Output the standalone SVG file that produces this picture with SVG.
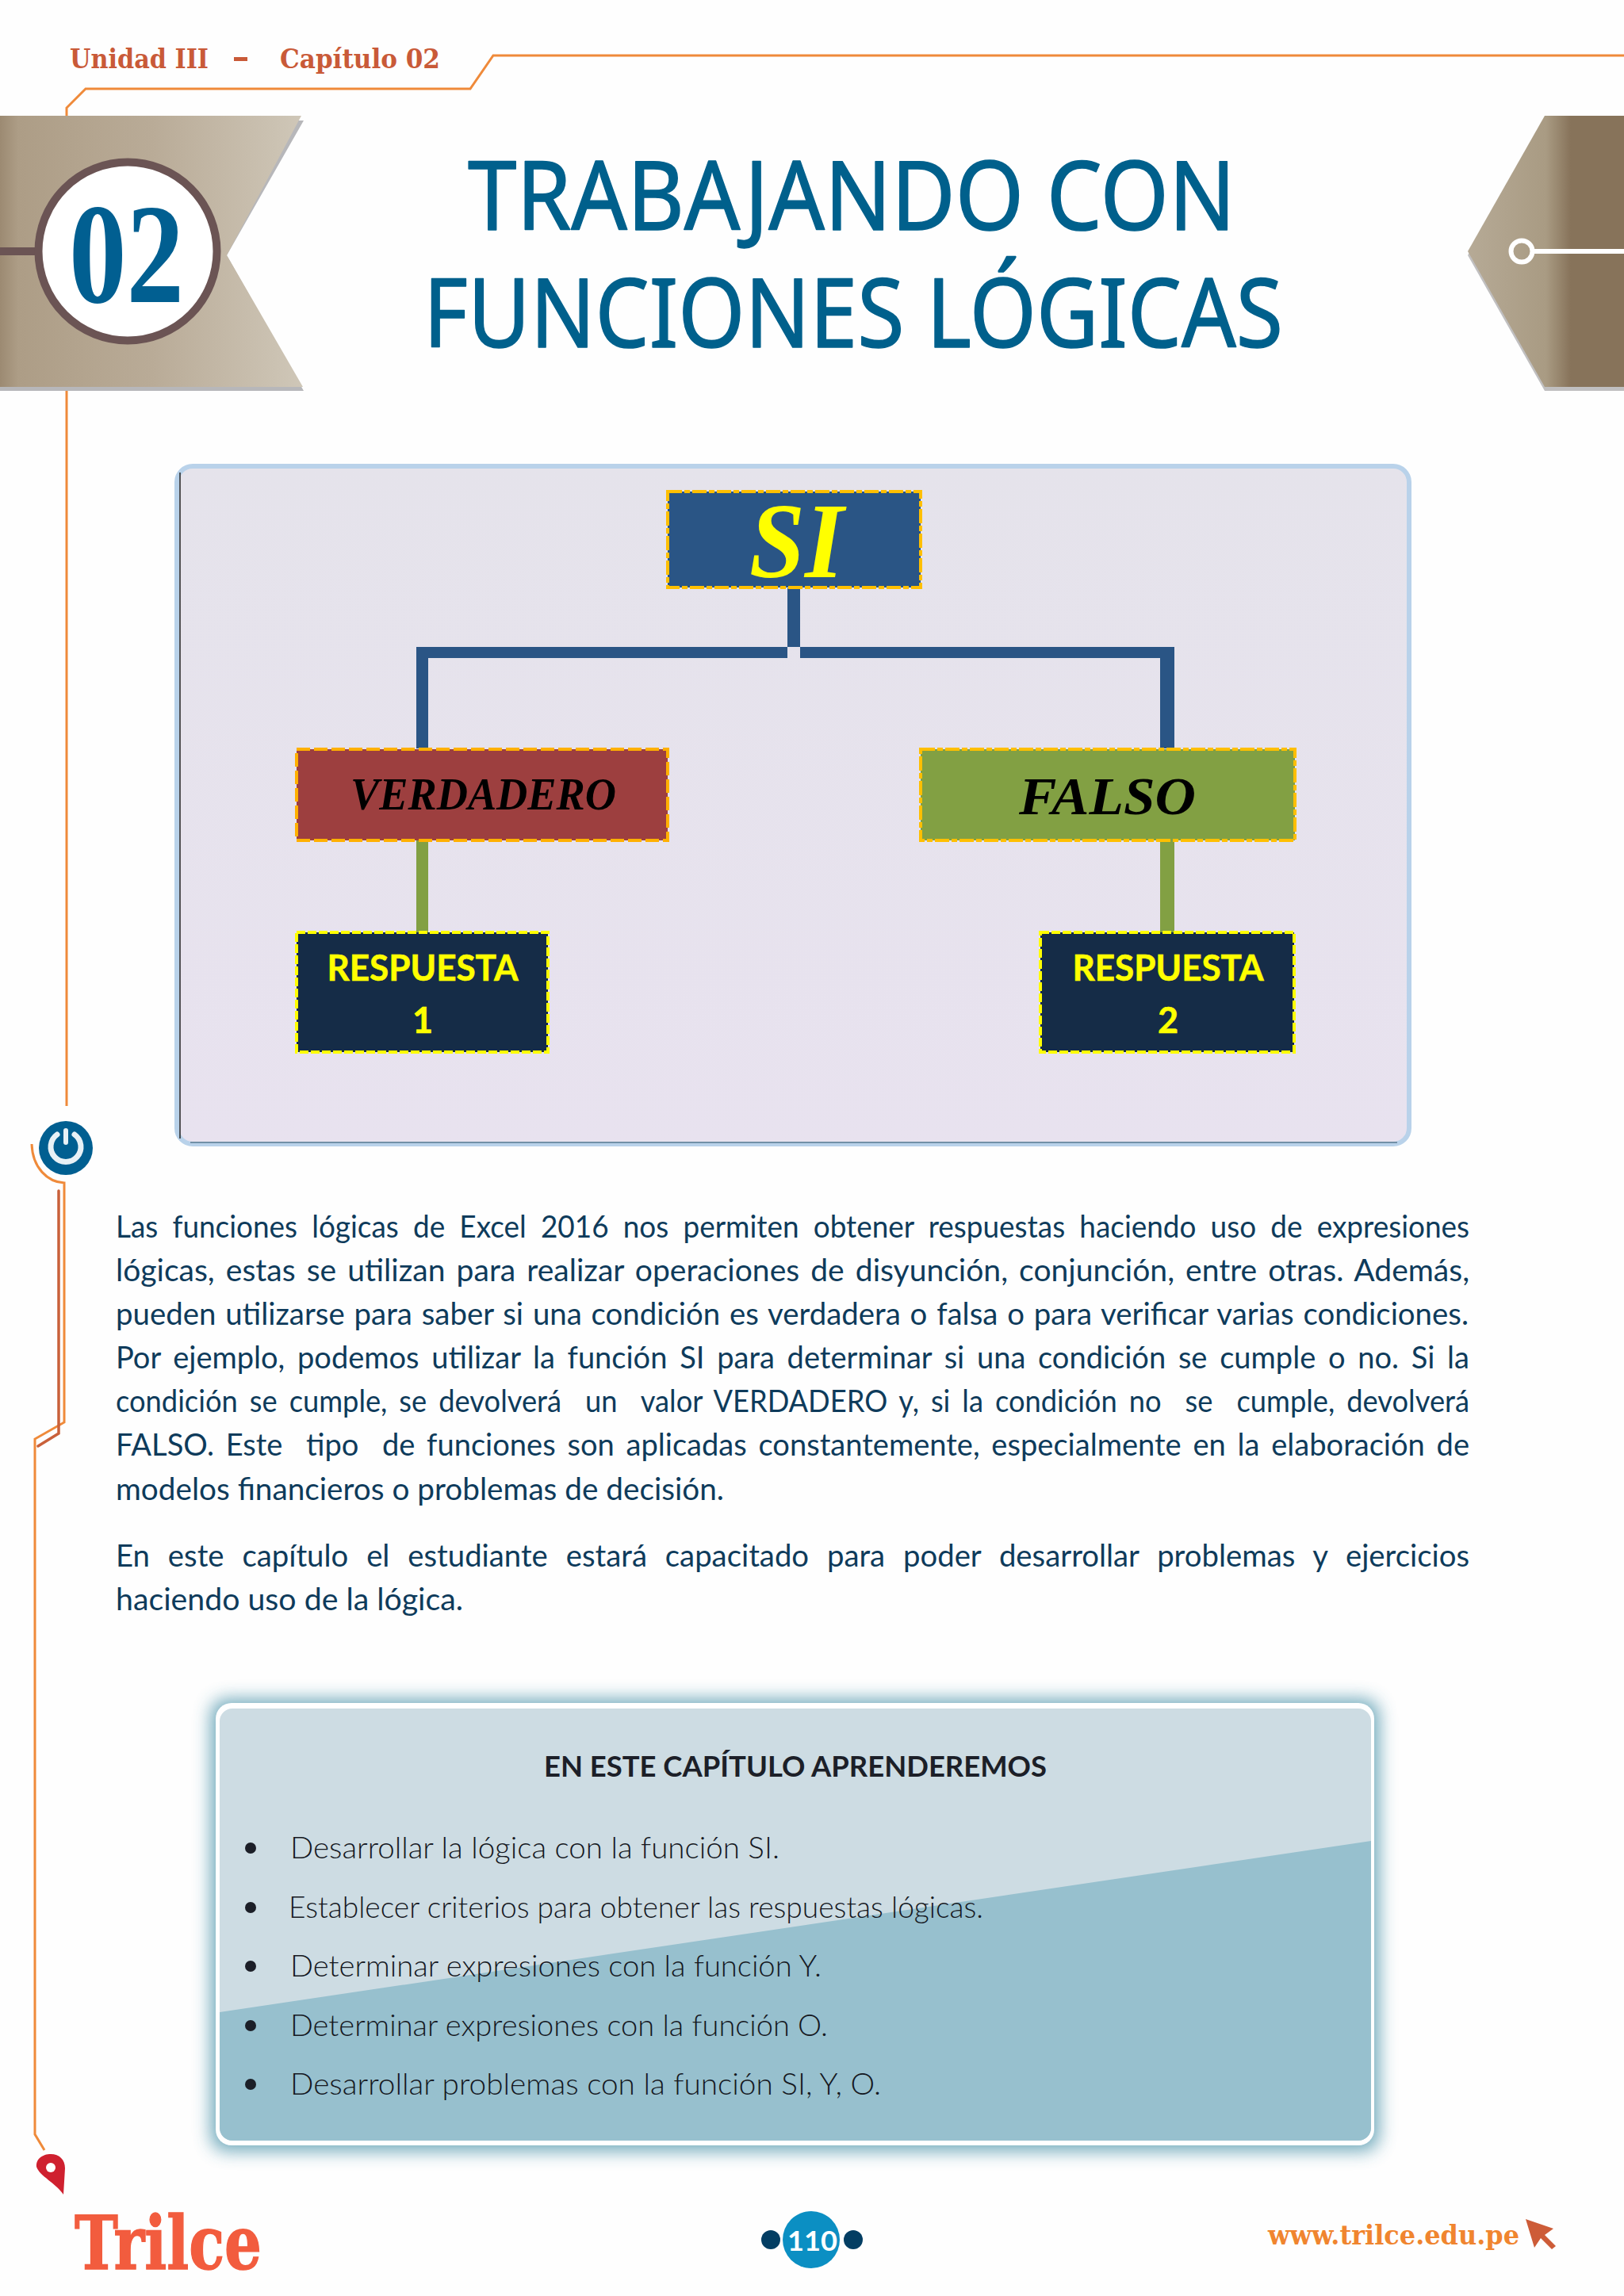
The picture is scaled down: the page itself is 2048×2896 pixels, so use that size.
<svg xmlns="http://www.w3.org/2000/svg" width="2048" height="2896" viewBox="0 0 2048 2896">
<style>
.ol{fill:none;stroke:#ef8a3a;stroke-width:3}
.rl{fill:none;stroke:#c9603a;stroke-width:3.5;stroke-linecap:round}
.hd{font-family:"DejaVu Serif",serif;font-weight:700;fill:#c95a38;font-size:33px}
.ti{font-family:"Noto Sans",sans-serif;font-size:120px;fill:#00608c;stroke:#00608c;stroke-width:1.5;stroke-linejoin:round}
.bo{font-family:Lato,sans-serif;font-size:38px;fill:#0e3b5b;white-space:pre}
.li{font-family:Lato,sans-serif;font-weight:300;font-size:37px;fill:#15181f}
.yb{font-family:Lato,sans-serif;font-weight:700;font-size:45px;fill:#ffff00;text-anchor:middle;stroke:#ffff00;stroke-width:.6}
.se{font-family:"Liberation Serif",serif;font-style:italic;font-weight:700}
.dg{stroke:#ffbf00;stroke-width:4;stroke-dasharray:18 3 7 3}
.do{stroke:#ffb000;stroke-width:4;stroke-dasharray:17 5}
.dy{stroke:#ffff00;stroke-width:4;stroke-dasharray:11 3}
</style>
<defs>
<linearGradient id="gl" gradientUnits="userSpaceOnUse" x1="0" y1="0" x2="382" y2="0"><stop offset="0" stop-color="#9c8a72"/><stop offset=".06" stop-color="#ad9d86"/><stop offset=".5" stop-color="#b9ab97"/><stop offset="1" stop-color="#cfc7b8"/></linearGradient>
<linearGradient id="gr" gradientUnits="userSpaceOnUse" x1="1851" y1="0" x2="2048" y2="0"><stop offset="0" stop-color="#b6aa96"/><stop offset=".5" stop-color="#a99b83"/><stop offset=".66" stop-color="#87735a"/><stop offset="1" stop-color="#87735a"/></linearGradient>
<linearGradient id="gp" x1="0" y1="0" x2="0" y2="1"><stop offset="0" stop-color="#e5e3eb"/><stop offset="1" stop-color="#e8e2ef"/></linearGradient>
<filter id="bl" x="-5%" y="-10%" width="110%" height="120%"><feGaussianBlur stdDeviation="11"/></filter>
<clipPath id="cb"><rect x="277" y="2155" width="1452" height="545" rx="16"/></clipPath>
</defs>
<rect width="2048" height="2896" fill="#fefefe"/>

<g id="page-lines">
<path class="ol" d="M84 146V136L108 112H593L622 70H2048"/>
<path class="ol" d="M84 493V1395"/>
<path class="ol" d="M40 1443C41 1473 60 1491 81 1492V1794L44 1815V2692L56 2712"/>
<path class="rl" d="M74 1502V1808L48 1824"/>
</g>

<g id="header">
<text class="hd" x="88" y="86" textLength="175" lengthAdjust="spacingAndGlyphs">Unidad III</text>
<rect x="295" y="72" width="17" height="5" fill="#c95a38"/>
<text class="hd" x="353" y="86" textLength="202" lengthAdjust="spacingAndGlyphs">Capítulo 02</text>
</g>

<g id="ribbon-left">
<polygon points="0,152 383,152 286,322 383,493 0,493" fill="#b7b7ba"/>
<polygon points="0,146 380,146 286,322 382,488 0,488" fill="url(#gl)"/>
<rect x="0" y="312" width="46" height="10" fill="#6b5454"/>
<circle cx="161" cy="317" r="112.500" fill="#fff" stroke="#6b5454" stroke-width="10"/>
<text x="87" y="381" textLength="145" lengthAdjust="spacingAndGlyphs" font-family="'Liberation Serif',serif" font-weight="700" font-size="180" fill="#015f91">02</text>
</g>

<g id="ribbon-right">
<polygon points="1948,152 2048,152 2048,493 1948,493 1851,322" fill="#c0bfc0"/>
<polygon points="1948,146 2048,146 2048,488 1948,488 1851,317" fill="url(#gr)"/>
<circle cx="1919" cy="317" r="13.500" fill="none" stroke="#fff" stroke-width="6"/>
<rect x="1933" y="314" width="115" height="6" fill="#fff"/>
</g>

<g id="title">
<text class="ti" x="590" y="290" textLength="968" lengthAdjust="spacingAndGlyphs">TRABAJANDO CON</text>
<text class="ti" x="534" y="438" textLength="1084" lengthAdjust="spacingAndGlyphs">FUNCIONES LÓGICAS</text>
</g>

<g id="panel">
<rect x="223" y="588" width="1554" height="855" rx="20" fill="url(#gp)" stroke="#b9d2ea" stroke-width="6"/>
<path d="M227 596V1436" stroke="#222" stroke-width="1.500" fill="none"/>
<path d="M240 1441H1762" stroke="#5b7a90" stroke-width="1.500" fill="none"/>
</g>

<g id="connectors">
<path d="M993 742H1009V816H993Z" fill="#2a5585"/>
<path d="M993 816H525V944H540V830H993Z" fill="#2a5585"/>
<path d="M1009 816H1481V944H1463V830H1009Z" fill="#2a5585"/>
<rect x="525" y="1060" width="15" height="116" fill="#82a043"/>
<rect x="1463" y="1060" width="18" height="116" fill="#82a043"/>
</g>

<g id="node-si">
<rect class="dg" x="842" y="620" width="319" height="121" fill="#2a5585"/>
<text class="se" x="945" y="728" font-size="135" fill="#ffff00" textLength="119" lengthAdjust="spacingAndGlyphs">SI</text>
</g>
<g id="node-verdadero">
<rect class="do" x="374" y="945" width="468" height="115" fill="#9d3f3f"/>
<text class="se" x="442" y="1021" font-size="56" fill="#000" textLength="335" lengthAdjust="spacingAndGlyphs">VERDADERO</text>
</g>
<g id="node-falso">
<rect class="dg" x="1161" y="945" width="472" height="115" fill="#82a043"/>
<text class="se" x="1285" y="1027" font-size="68" fill="#000" textLength="223" lengthAdjust="spacingAndGlyphs">FALSO</text>
</g>
<g id="node-respuesta-1">
<rect class="dy" x="374" y="1176" width="317" height="151" fill="#152c47"/>
<text class="yb" x="533" y="1237" textLength="241" lengthAdjust="spacingAndGlyphs">RESPUESTA</text>
<text class="yb" x="533" y="1303">1</text>
</g>
<g id="node-respuesta-2">
<rect class="dy" x="1312" y="1176" width="320" height="151" fill="#152c47"/>
<text class="yb" x="1473" y="1237" textLength="241" lengthAdjust="spacingAndGlyphs">RESPUESTA</text>
<text class="yb" x="1473" y="1303">2</text>
</g>

<g id="power">
<circle cx="83" cy="1448" r="34" fill="#015f91"/>
<path d="M72 1431A19 19 0 1 0 94 1431" fill="none" stroke="#e8f1f6" stroke-width="7" stroke-linecap="round"/>
<rect x="80" y="1423" width="6" height="21" rx="3" fill="#e8f1f6"/>
</g>

<g id="body-text">
<text class="bo" x="146" y="1561" word-spacing="9" textLength="1707" lengthAdjust="spacingAndGlyphs">Las funciones lógicas de Excel 2016 nos permiten obtener respuestas haciendo uso de expresiones</text>
<text class="bo" x="146" y="1616" word-spacing="4" textLength="1707" lengthAdjust="spacingAndGlyphs">lógicas, estas se utilizan para realizar operaciones de disyunción, conjunción, entre otras. Además,</text>
<text class="bo" x="146" y="1671" word-spacing="2" textLength="1706" lengthAdjust="spacingAndGlyphs">pueden utilizarse para saber si una condición es verdadera o falsa o para verificar varias condiciones.</text>
<text class="bo" x="146" y="1726" word-spacing="6" textLength="1707" lengthAdjust="spacingAndGlyphs">Por ejemplo, podemos utilizar la función SI para determinar si una condición se cumple o no. Si la</text>
<text class="bo" x="146" y="1781" word-spacing="6" textLength="1707" lengthAdjust="spacingAndGlyphs">condición se cumple, se devolverá  un  valor VERDADERO y, si la condición no  se  cumple, devolverá</text>
<text class="bo" x="146" y="1836" word-spacing="5" textLength="1707" lengthAdjust="spacingAndGlyphs">FALSO. Este  tipo  de funciones son aplicadas constantemente, especialmente en la elaboración de</text>
<text class="bo" x="146" y="1892" textLength="767" lengthAdjust="spacingAndGlyphs">modelos financieros o problemas de decisión.</text>
<text class="bo" x="146" y="1976" word-spacing="13" textLength="1707" lengthAdjust="spacingAndGlyphs">En este capítulo el estudiante estará capacitado para poder desarrollar problemas y ejercicios</text>
<text class="bo" x="146" y="2031" textLength="438" lengthAdjust="spacingAndGlyphs">haciendo uso de la lógica.</text>
</g>

<g id="learn-box">
<rect x="266" y="2143" width="1473" height="570" rx="20" fill="#5f9fb3" filter="url(#bl)" opacity=".9"/>
<rect x="272" y="2148" width="1461" height="558" rx="20" fill="#fff"/>
<g clip-path="url(#cb)">
<rect x="277" y="2155" width="1452" height="545" fill="#cddce3"/>
<polygon points="277,2538 1729,2322 1729,2700 277,2700" fill="#97c0ce"/>
</g>
<text x="686" y="2241" font-family="Lato,sans-serif" font-weight="700" font-size="36" fill="#1c1f28" textLength="634" lengthAdjust="spacingAndGlyphs">EN ESTE CAPÍTULO APRENDEREMOS</text>
<circle cx="316" cy="2331" r="7" fill="#1c1f28"/>
<circle cx="316" cy="2406" r="7" fill="#1c1f28"/>
<circle cx="316" cy="2480" r="7" fill="#1c1f28"/>
<circle cx="316" cy="2555" r="7" fill="#1c1f28"/>
<circle cx="316" cy="2629" r="7" fill="#1c1f28"/>
<text class="li" x="366" y="2344" textLength="617" lengthAdjust="spacingAndGlyphs">Desarrollar la lógica con la función SI.</text>
<text class="li" x="364" y="2419" textLength="876" lengthAdjust="spacingAndGlyphs">Establecer criterios para obtener las respuestas lógicas.</text>
<text class="li" x="366" y="2493" textLength="670" lengthAdjust="spacingAndGlyphs">Determinar expresiones con la función Y.</text>
<text class="li" x="366" y="2568" textLength="678" lengthAdjust="spacingAndGlyphs">Determinar expresiones con la función O.</text>
<text class="li" x="366" y="2642" textLength="745" lengthAdjust="spacingAndGlyphs">Desarrollar problemas con la función SI, Y, O.</text>
</g>

<g id="pin">
<path d="M80 2768C70 2753 50 2745 46 2733C45 2723 54 2717 64 2717C75 2717 82 2724 82 2735Z" fill="#cf202f"/>
<circle cx="64" cy="2734" r="6" fill="#fff"/>
</g>

<g id="footer">
<text x="94" y="2862" font-family="'DejaVu Serif',serif" font-weight="700" font-size="94" fill="#f25c3e" stroke="#f25c3e" stroke-width="1.500" textLength="236" lengthAdjust="spacingAndGlyphs">Trilce</text>
<circle cx="972" cy="2825" r="12" fill="#033e63"/>
<circle cx="1076" cy="2825" r="12" fill="#033e63"/>
<circle cx="1023" cy="2825" r="36" fill="#0b8fc3"/>
<text x="993" y="2839" font-family="Lato,sans-serif" font-weight="700" font-size="35" fill="#fff" textLength="63" lengthAdjust="spacingAndGlyphs">110</text>
<text x="1599" y="2831" font-family="'DejaVu Serif',serif" font-weight="700" font-size="33" fill="#f0852f" textLength="317" lengthAdjust="spacingAndGlyphs">www.trilce.edu.pe</text>
<polygon points="1924,2799 1959,2811 1948,2819 1962,2833 1957,2837 1943,2823 1935,2835" fill="#cd5c38"/>
</g>
</svg>
